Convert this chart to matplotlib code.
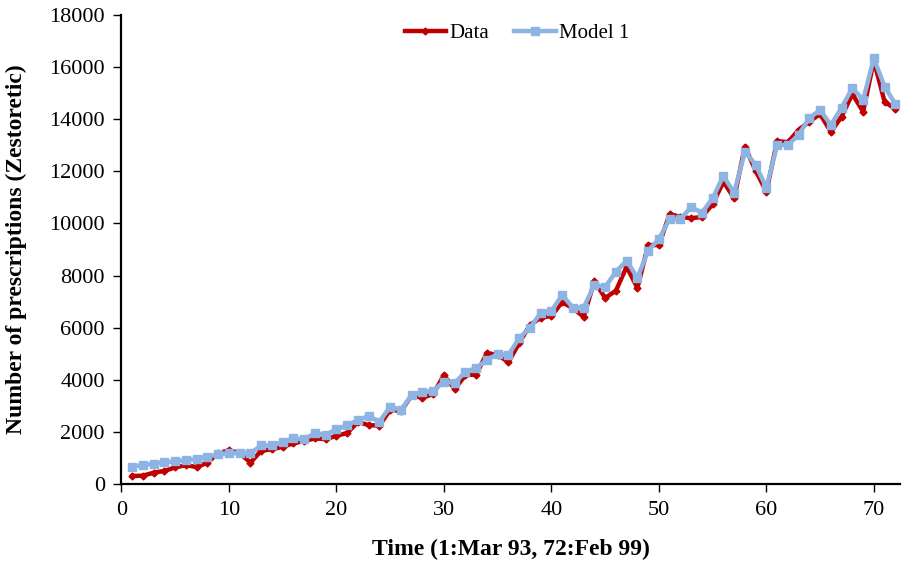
import numpy as np
import matplotlib
matplotlib.use("Agg")
from matplotlib import pyplot as plt

# monthly index 1..72
months = list(range(1, 73))

data = [307, 320, 435, 500, 640, 720, 650, 820, 1180, 1300,
        1180, 820, 1280, 1330, 1430, 1560, 1650, 1750, 1720, 1850,
        1960, 2380, 2260, 2240, 2850, 2800, 3400, 3310, 3450, 4180,
        3640, 4180, 4200, 5030, 4950, 4680, 5410, 6100, 6380, 6450,
        6980, 6740, 6420, 7780, 7140, 7420, 8340, 7520, 9170, 9170,
        10360, 10250, 10200, 10250, 10740, 11600, 10970, 12950, 12020, 11220,
        13160, 13120, 13590, 13910, 14200, 13510, 14100, 14970, 14290, 16250,
        14670, 14390]

model1 = [665, 725, 780, 830, 870, 920, 960, 1050, 1140, 1180,
          1180, 1180, 1480, 1480, 1620, 1750, 1720, 1950, 1890, 2100,
          2260, 2450, 2610, 2390, 2970, 2840, 3415, 3530, 3570, 3930,
          3870, 4310, 4450, 4770, 4980, 4950, 5600, 5990, 6560, 6640,
          7250, 6770, 6770, 7640, 7560, 8150, 8570, 7910, 8950, 9400,
          10170, 10170, 10630, 10410, 10970, 11820, 11180, 12750, 12260, 11360,
          13010, 13010, 13400, 14050, 14350, 13780, 14440, 15200, 14740, 16340,
          15250, 14580]

plt.rcParams['font.family'] = ['Liberation Serif', 'DejaVu Serif']

fig = plt.figure(figsize=(9.02, 5.62), dpi=100)
ax = fig.add_axes([0.1347, 0.1388, 0.8627, 0.8345])

ax.plot(months, data, color='#C00000', lw=3.2, marker='D', ms=3.5,
        label='Data', zorder=2)
ax.plot(months, model1, color='#8DB4E2', lw=3.2, marker='s', ms=5.5,
        label='Model 1', zorder=3)

ax.set_xlim(0, 72.4)
ax.set_ylim(0, 18000)
ax.set_xticks(np.arange(0, 71, 10))
ax.set_yticks(np.arange(0, 18001, 2000))

for s in ['top', 'right']:
    ax.spines[s].set_visible(False)
for s in ['left', 'bottom']:
    ax.spines[s].set_linewidth(1.6)
ax.tick_params(direction='out', length=6, width=1, labelsize=16, pad=6)

ax.set_xlabel('Time (1:Mar 93, 72:Feb 99)', fontsize=17, fontweight='bold',
              labelpad=14)
ax.set_ylabel('Number of prescriptions (Zestoretic)', fontsize=17,
              fontweight='bold', labelpad=16)

ax.legend(loc='upper center', bbox_to_anchor=(0.508, 1.022), ncol=2,
          frameon=False, fontsize=15, handlelength=2.0, columnspacing=1.2,
          handletextpad=0.15)

fig.savefig('out.png', dpi=100)
